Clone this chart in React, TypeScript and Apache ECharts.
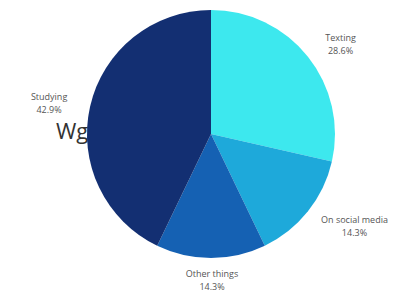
import React, { useEffect, useRef } from "react";
import * as echarts from "echarts";

const categories = ["Texting", "On social media", "Other things", "Studying"];
const values = [28.6, 14.3, 14.3, 42.9];
const colors = ["#3DE8EE", "#1EA9DA", "#1561B3", "#132F72"];
const labelDistances = [158, 172, 146, 163];
const labelOffsets = [
  [6, 9],
  [9, -15],
  [1, 0],
  [-3, 5],
];

export default function App() {
  const ref = useRef<HTMLDivElement>(null);
  useEffect(() => {
    if (!ref.current) return;
    const chart = echarts.init(ref.current, undefined, { renderer: "svg" });
    const cx = 211;
    const cy = 134;
    const total = values.reduce((a, b) => a + b, 0);
    const mids: number[] = [];
    let acc = 0;
    values.forEach((v) => {
      mids.push(((acc + v / 2) / total) * Math.PI * 2);
      acc += v;
    });
    chart.setOption({
      animation: false,
      graphic: [
        {
          type: "text",
          left: 56,
          top: 119,
          style: {
            text: "Wg",
            fontSize: 22,
            fontFamily: "Open Sans",
            fill: "#333",
          },
        },
      ],
      series: [
        {
          type: "pie",
          center: [cx, cy],
          radius: [0, 124],
          startAngle: 90,
          clockwise: true,
          avoidLabelOverlap: false,
          data: categories.map((c, i) => ({
            name: c,
            value: values[i],
            itemStyle: { color: colors[i] },
          })),
          label: {
            show: true,
            position: "outside",
            formatter: (p: any) => `${p.name}\n${p.value}%`,
            fontFamily: "Open Sans",
            fontSize: 9,
            lineHeight: 13,
            color: "#555",
            align: "center",
          },
          labelLine: { show: false },
          labelLayout: (p: any) => {
            const i = p.dataIndex;
            const a = mids[i];
            const d = labelDistances[i];
            return {
              x: cx + d * Math.sin(a) + labelOffsets[i][0],
              y: cy - d * Math.cos(a) + labelOffsets[i][1],
              align: "center",
              verticalAlign: "middle",
            };
          },
        },
      ],
    });
    return () => chart.dispose();
  }, []);
  return <div ref={ref} style={{ width: 397, height: 296, position: "absolute", left: 0, top: 0 }} />;
}
